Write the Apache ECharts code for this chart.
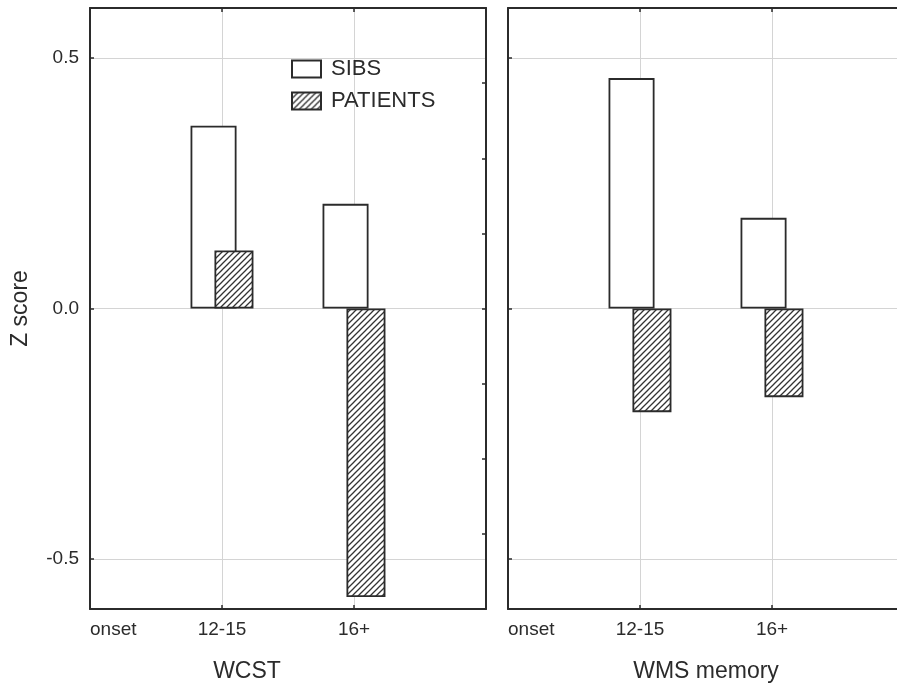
<!DOCTYPE html>
<html>
<head>
<meta charset="utf-8">
<script src="https://cdn.jsdelivr.net/npm/echarts@6/dist/echarts.min.js"></script>
<style>
  html, body { margin: 0; padding: 0; background: #fff; }
  #chart { width: 897px; height: 689px; }
</style>
</head>
<body>
<div id="chart"></div>
<script>
// x tick labels at positions 0, 1, 2 of each panel
var groups = ['onset', '12-15', '16+'];
var panels = ['WCST', 'WMS memory'];
var seriesNames = ['SIBS', 'PATIENTS'];
// values for 12-15 and 16+
var sibsWcst = [0.365, 0.209];
var patientsWcst = [0.116, -0.576];
var sibsWms = [0.46, 0.181];
var patientsWms = [-0.207, -0.177];
var yTickValues = [-0.5, 0, 0.5];

var FONT = '"Liberation Sans", Arial, sans-serif';
var INK = '#2b2b2b';
var GRID_GRAY = '#d4d4d4';

// diagonal hatch tile
function makeHatch() {
    var s = 6;
    var c = document.createElement('canvas');
    c.width = s; c.height = s;
    var g = c.getContext('2d');
    g.fillStyle = '#fff';
    g.fillRect(0, 0, s, s);
    g.strokeStyle = '#333';
    g.lineWidth = 1.3;
    g.beginPath();
    g.moveTo(0, s); g.lineTo(s, 0);
    g.moveTo(-1, 1); g.lineTo(1, -1);
    g.moveTo(s - 1, s + 1); g.lineTo(s + 1, s - 1);
    g.stroke();
    return c;
}
var hatch = { image: makeHatch(), repeat: 'repeat' };

function toPoints(vals) {
    return vals.map(function (v, i) { return [i + 1, v]; });
}

function bottomAxis(gridIndex, name, namePad) {
    return {
        type: 'value', gridIndex: gridIndex, position: 'bottom',
        min: 0, max: 3, interval: 1,
        axisLine: { onZero: false, lineStyle: { color: INK, width: 2 } },
        axisTick: { inside: true, length: 4, customValues: [1, 2], lineStyle: { color: INK, width: 1.5 } },
        axisLabel: {
            color: INK, fontSize: 19, fontFamily: FONT, margin: 11,
            alignMinLabel: 'left',
            formatter: function (v) { return groups[v] !== undefined ? groups[v] : ''; }
        },
        splitLine: { show: true, lineStyle: { color: GRID_GRAY, width: 1 } },
        name: name, nameLocation: 'middle', nameGap: 51,
        nameTextStyle: { color: INK, fontSize: 23, fontFamily: FONT, padding: [0, namePad, 0, 0] }
    };
}

function topAxis(gridIndex) {
    return {
        type: 'value', gridIndex: gridIndex, position: 'top',
        min: 0, max: 3, interval: 1,
        axisLine: { onZero: false, lineStyle: { color: INK, width: 2 } },
        axisTick: { inside: true, length: 4, customValues: [1, 2], lineStyle: { color: INK, width: 1.5 } },
        axisLabel: { show: false },
        splitLine: { show: false }
    };
}

function leftAxis(gridIndex, showLabels) {
    var ax = {
        type: 'value', gridIndex: gridIndex, position: 'left',
        min: -0.6, max: 0.6,
        axisLine: { show: true, onZero: false, lineStyle: { color: INK, width: 2 } },
        axisTick: { show: true, inside: true, length: 4, customValues: yTickValues, lineStyle: { color: INK, width: 1.5 } },
        axisLabel: {
            show: showLabels, customValues: yTickValues,
            color: INK, fontSize: 19, fontFamily: FONT, margin: 11,
            formatter: function (v) { return v.toFixed(1); }
        },
        splitLine: { show: true, lineStyle: { color: GRID_GRAY, width: 1 } }
    };
    if (showLabels) {
        ax.name = 'Z score';
        ax.nameLocation = 'middle';
        ax.nameGap = 58;
        ax.nameTextStyle = { color: INK, fontSize: 23, fontFamily: FONT };
    }
    return ax;
}

function rightAxis(gridIndex) {
    return {
        type: 'value', gridIndex: gridIndex, position: 'right',
        min: -0.6, max: 0.6, interval: 0.15,
        axisLine: { show: true, onZero: false, lineStyle: { color: INK, width: 2 } },
        axisTick: { show: true, inside: true, length: 4, lineStyle: { color: INK, width: 1.5 } },
        axisLabel: { show: false },
        splitLine: { show: false }
    };
}

function barSeries(name, vals, xIdx, yIdx, patient) {
    return {
        name: name, type: 'bar',
        xAxisIndex: xIdx, yAxisIndex: yIdx,
        data: toPoints(vals),
        barWidth: patient ? 39 : 46,
        barGap: '-48%',
        itemStyle: {
            color: patient ? hatch : '#fff',
            borderColor: INK, borderWidth: 1.8
        },
        emphasis: { disabled: true },
        animation: false
    };
}

var chart = echarts.init(document.getElementById('chart'));
chart.setOption({
    animation: false,
    textStyle: { fontFamily: FONT },
    legend: {
        data: seriesNames,
        orient: 'vertical',
        left: 291, top: 58,
        padding: 0,
        icon: 'rect',
        itemWidth: 29, itemHeight: 17, itemGap: 10,
        selectedMode: false,
        textStyle: { color: INK, fontSize: 22, fontFamily: FONT, lineHeight: 17, padding: [0, 0, 0, 5] }
    },
    grid: [
        { left: 90, top: 8, width: 396, height: 601, outerBoundsMode: 'none' },
        { left: 508, top: 8, width: 396, height: 601, outerBoundsMode: 'none' }
    ],
    xAxis: [
        bottomAxis(0, panels[0], 82), topAxis(0),
        bottomAxis(1, panels[1], 0), topAxis(1)
    ],
    yAxis: [
        leftAxis(0, true), rightAxis(0),
        leftAxis(1, false), rightAxis(1)
    ],
    series: [
        barSeries(seriesNames[0], sibsWcst, 0, 0, false),
        barSeries(seriesNames[1], patientsWcst, 0, 0, true),
        barSeries(seriesNames[0], sibsWms, 2, 2, false),
        barSeries(seriesNames[1], patientsWms, 2, 2, true)
    ]
});
</script>
</body>
</html>
